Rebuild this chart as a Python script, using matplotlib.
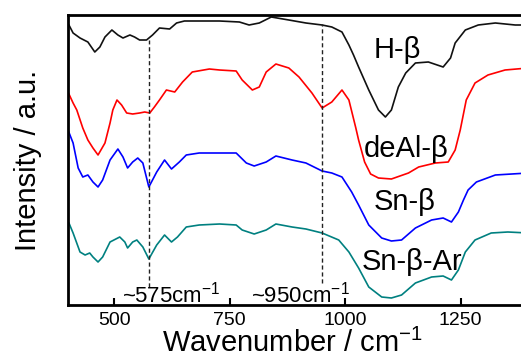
import numpy as np
import matplotlib
matplotlib.use('Agg')
import matplotlib.pyplot as plt

'''SETTINGS'''
plt.rcParams['font.family'] = ['Liberation Sans', 'DejaVu Sans']
plt.rcParams['mathtext.fontset'] = 'custom'
plt.rcParams['mathtext.rm'] = 'Liberation Sans'
plt.rcParams['mathtext.it'] = 'Liberation Sans'

'''DATA (read from the reference picture, intensity in a.u.)'''
# H-beta
wn_h = [402, 411, 426, 443, 458, 469, 480, 495, 508, 519, 534, 544, 555, 570, 583, 598,
        620, 635, 652, 684, 728, 771, 792, 814, 840, 878, 915, 950, 971, 993, 1008, 1018,
        1029, 1051, 1072, 1087, 1100, 1115, 1131, 1152, 1180, 1212, 1228, 1238, 1260,
        1288, 1325, 1368, 1396]
int_h = [280, 272, 267, 263, 253, 258, 268, 275, 270, 267, 270, 268, 265, 265, 270, 277,
         276, 282, 284, 284, 284, 283, 280, 282, 288, 285, 282, 280, 278, 273, 260, 250,
         238, 215, 195, 188, 195, 218, 232, 242, 243, 238, 247, 262, 275,
         280, 282, 280, 280]

# deAl-beta
wn_deal = [400, 411, 419, 432, 443, 454, 465, 480, 491, 497, 506, 516, 527, 540, 555, 566,
           577, 587, 598, 613, 631, 648, 669, 706, 728, 764, 777, 799, 814, 829, 850, 878,
           900, 928, 950, 971, 993, 1008, 1023, 1029, 1042, 1055, 1072, 1100, 1137, 1159,
           1195, 1223, 1238, 1249, 1262, 1281, 1309, 1346, 1396]
int_deal = [213, 202, 195, 177, 165, 157, 150, 162, 182, 195, 205, 200, 192, 191, 192, 193,
            192, 198, 205, 215, 213, 223, 233, 236, 235, 234, 225, 215, 218, 233, 241, 237,
            228, 212, 197, 203, 215, 205, 177, 165, 143, 131, 127, 126, 132, 138,
            142, 143, 155, 175, 205, 222, 230, 235, 237]

# Sn-beta
wn_sn = [400, 411, 422, 432, 443, 454, 465, 475, 491, 508, 519, 529, 540, 551, 562, 575,
         592, 609, 624, 641, 656, 684, 728, 764, 786, 803, 829, 850, 885, 915, 950, 971,
         993, 1014, 1029, 1051, 1079, 1100, 1122, 1152, 1187, 1212, 1230, 1245, 1256,
         1266, 1284, 1325, 1396]
int_sn = [175, 162, 137, 128, 130, 123, 118, 125, 145, 156, 148, 137, 143, 147, 142, 118,
          133, 145, 136, 143, 150, 152, 152, 152, 142, 139, 143, 149, 145, 142, 134, 132,
          128, 113, 100, 80, 67, 64, 65, 77, 85, 87, 83, 93, 105,
          115, 123, 130, 132]

# Sn-beta-Ar
wn_ar = [402, 411, 426, 437, 447, 454, 465, 475, 491, 512, 523, 529, 540, 549, 562, 575,
         592, 609, 624, 637, 656, 684, 728, 764, 777, 803, 829, 850, 885, 915, 950, 986,
         1008, 1029, 1051, 1079, 1100, 1122, 1152, 1187, 1212, 1230, 1245, 1260, 1281,
         1316, 1352, 1396]
int_ar = [82, 72, 53, 50, 52, 48, 43, 48, 63, 68, 63, 57, 63, 65, 58, 46,
          60, 70, 63, 68, 78, 80, 81, 80, 75, 71, 75, 81, 78, 76, 72, 65,
          53, 37, 18, 8, 7, 10, 22, 28, 29, 25, 35, 53, 65,
          72, 73, 72]

labels = ['H-\u03b2', 'deAl-\u03b2', 'Sn-\u03b2', 'Sn-\u03b2-Ar']
colors = ['#111111', '#ff0000', '#0000ff', '#008080']
label_pos = [(1062, 247), (1040, 148), (1062, 95), (1036, 35)]

# marker lines: position, top, bottom
marks = [575, 950]
mark_top = [265, 281]
mark_bot = [18, 22]
mark_text = ['~575cm$^{-1}$', '~950cm$^{-1}$']
mark_text_x = [516, 796]

'''PLOT'''
fig = plt.figure(figsize=(5.21, 3.58), dpi=100)
ax = fig.add_axes([68 / 521, 53 / 358, 462 / 521, 290 / 358])

for wn, inten, c in zip([wn_h, wn_deal, wn_sn, wn_ar], [int_h, int_deal, int_sn, int_ar], colors):
    ax.plot(wn, inten, color=c, lw=1.2)

for (tx, ty), lab in zip(label_pos, labels):
    ax.text(tx, ty, lab, fontsize=21, ha='left', va='baseline')

for m, t, b in zip(marks, mark_top, mark_bot):
    ax.plot([m, m], [b, t], color='#222222', lw=1.0, ls=(0, (3, 2)))

for tx, s in zip(mark_text_x, mark_text):
    ax.text(tx, 2, s, fontsize=16, ha='left', va='baseline')

ax.set_xlim(400, 1400)
ax.set_ylim(0, 290)
ax.set_xticks([500, 750, 1000, 1250])
ax.set_yticks([])
ax.tick_params(axis='x', direction='in', length=5, width=1.5, labelsize=14, pad=5)
for sp in ax.spines.values():
    sp.set_linewidth(2)

ax.set_xlabel('Wavenumber / cm$^{-1}$', fontsize=21, labelpad=0)
ax.xaxis.label.set_x(0.486)
ax.set_ylabel('Intensity / a.u.', fontsize=21, labelpad=19)

fig.savefig('out.png', dpi=100)
